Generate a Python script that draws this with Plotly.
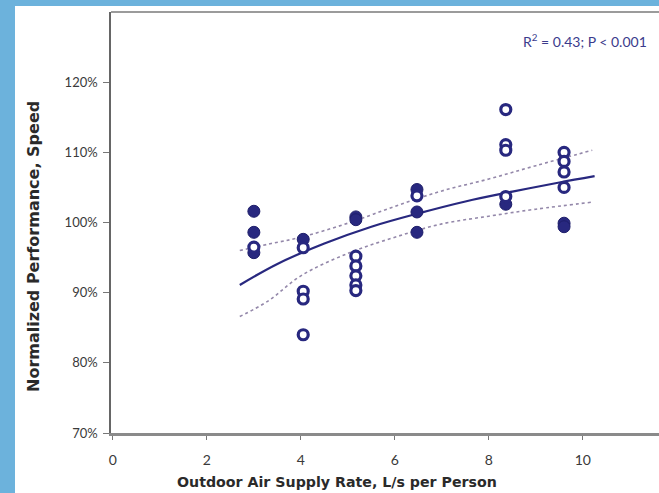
import plotly.graph_objects as go

# ---- data ----
filled_x = [3.0, 3.0, 3.0, 4.05, 5.17, 5.17, 6.47, 6.47, 6.47, 8.36, 9.6, 9.6]
filled_y = [101.6, 98.6, 95.7, 97.6, 100.8, 100.4, 104.7, 101.5, 98.6, 102.6, 99.9, 99.4]

open_x = [3.0, 4.05, 4.05, 4.05, 4.05, 5.17, 5.17, 5.17, 5.17, 5.17,
          6.47, 8.36, 8.36, 8.36, 8.36, 9.6, 9.6, 9.6, 9.6]
open_y = [96.5, 96.4, 90.2, 89.1, 84.0, 95.2, 93.8, 92.4, 91.1, 90.3,
          103.8, 116.1, 111.1, 110.3, 103.7, 110.0, 108.7, 107.2, 105.0]

fit_x = [2.7, 3.5, 4.5, 5.5, 6.5, 7.5, 8.5, 9.5, 10.25]
fit_y = [91.1, 94.1, 97.0, 99.4, 101.3, 103.0, 104.4, 105.7, 106.6]

band_x = [2.7, 3.3, 4.0, 5.0, 6.0, 7.0, 8.0, 9.0, 10.2]
upper_y = [96.0, 96.9, 97.9, 99.9, 102.3, 104.5, 106.2, 108.1, 110.3]
lower_y = [86.6, 88.8, 92.4, 95.6, 97.9, 99.8, 100.9, 101.9, 102.9]

y_ticks = [70, 80, 90, 100, 110, 120]
y_tick_labels = ["70%", "80%", "90%", "100%", "110%", "120%"]
x_ticks = [0, 2, 4, 6, 8, 10]

NAVY = "#28287f"
BAND = "#9488aa"
FONT = "Lato, 'Open Sans', sans-serif"
TITLE_FONT = "'DejaVu Sans', sans-serif"

fig = go.Figure()

fig.add_trace(go.Scatter(x=band_x, y=upper_y, mode="lines",
                         line=dict(color=BAND, width=1.6, dash="dot", shape="spline"),
                         hoverinfo="skip"))
fig.add_trace(go.Scatter(x=band_x, y=lower_y, mode="lines",
                         line=dict(color=BAND, width=1.6, dash="dot", shape="spline"),
                         hoverinfo="skip"))
fig.add_trace(go.Scatter(x=fit_x, y=fit_y, mode="lines",
                         line=dict(color=NAVY, width=2.2, shape="spline"),
                         hoverinfo="skip"))
fig.add_trace(go.Scatter(x=filled_x, y=filled_y, mode="markers",
                         marker=dict(size=12, color=NAVY, symbol="circle",
                                     line=dict(color="#1e1e6a", width=1))))
fig.add_trace(go.Scatter(x=open_x, y=open_y, mode="markers",
                         marker=dict(size=10, color="white", symbol="circle",
                                     line=dict(color=NAVY, width=3.2))))

shapes = [
    # white panel over blue background
    dict(type="rect", xref="paper", yref="paper", x0=-96/548, x1=1.0,
         y0=-60/421, y1=1 + 6/421, fillcolor="white", line=dict(width=0), layer="below"),
    # top frame line
    dict(type="line", xref="paper", yref="paper", x0=0, x1=1, y0=1, y1=1,
         line=dict(color="#7a7a7a", width=1.5)),
]

fig.update_layout(
    width=659, height=493,
    margin=dict(l=111, r=0, t=12, b=60),
    paper_bgcolor="#6cb2dc",
    plot_bgcolor="white",
    showlegend=False,
    shapes=shapes,
    font=dict(family=FONT, color="#3a3a3a"),
    xaxis=dict(range=[-0.04, 11.62], tickvals=x_ticks, ticktext=[str(v) for v in x_ticks],
               showgrid=False, zeroline=False, showline=True, linecolor="#8a8a8a", linewidth=2.5,
               ticks="outside", ticklen=4, tickcolor="#777", tickwidth=1,
               tickfont=dict(size=14, color="#3a3a3a", family=FONT), ticklabelstandoff=8),
    yaxis=dict(range=[70, 130], tickvals=y_ticks, ticktext=y_tick_labels,
               showgrid=False, zeroline=False, showline=True, linecolor="#666", linewidth=1.5,
               ticks="outside", ticklen=6, tickcolor="#777", tickwidth=1,
               tickfont=dict(size=13, color="#3a3a3a", family=FONT), ticklabelstandoff=3),
    annotations=[
        dict(text="R<sup>2</sup> = 0.43; P < 0.001", xref="paper", yref="paper",
             x=(649-111)/548, y=(433-40)/421, xanchor="right", yanchor="middle",
             showarrow=False, font=dict(size=14, color="#3b3b8c", family=FONT)),
        dict(text="<b>Outdoor Air Supply Rate, L/s per Person</b>", xref="paper", yref="paper",
             x=(337-111)/548, y=(433-482)/421, xanchor="center", yanchor="middle",
             showarrow=False, font=dict(size=14.2, color="#2a2a2a", family=TITLE_FONT)),
        dict(text="<b>Normalized Performance, Speed</b>", xref="paper", yref="paper",
             x=(33-111)/548, y=(433-247)/421, xanchor="center", yanchor="middle",
             textangle=-90, showarrow=False, font=dict(size=16, color="#2a2a2a", family=TITLE_FONT)),
    ],
)

fig.write_html("out.html", config={"displayModeBar": False},
               post_script="document.body.style.margin='0';document.body.style.overflow='hidden';")
